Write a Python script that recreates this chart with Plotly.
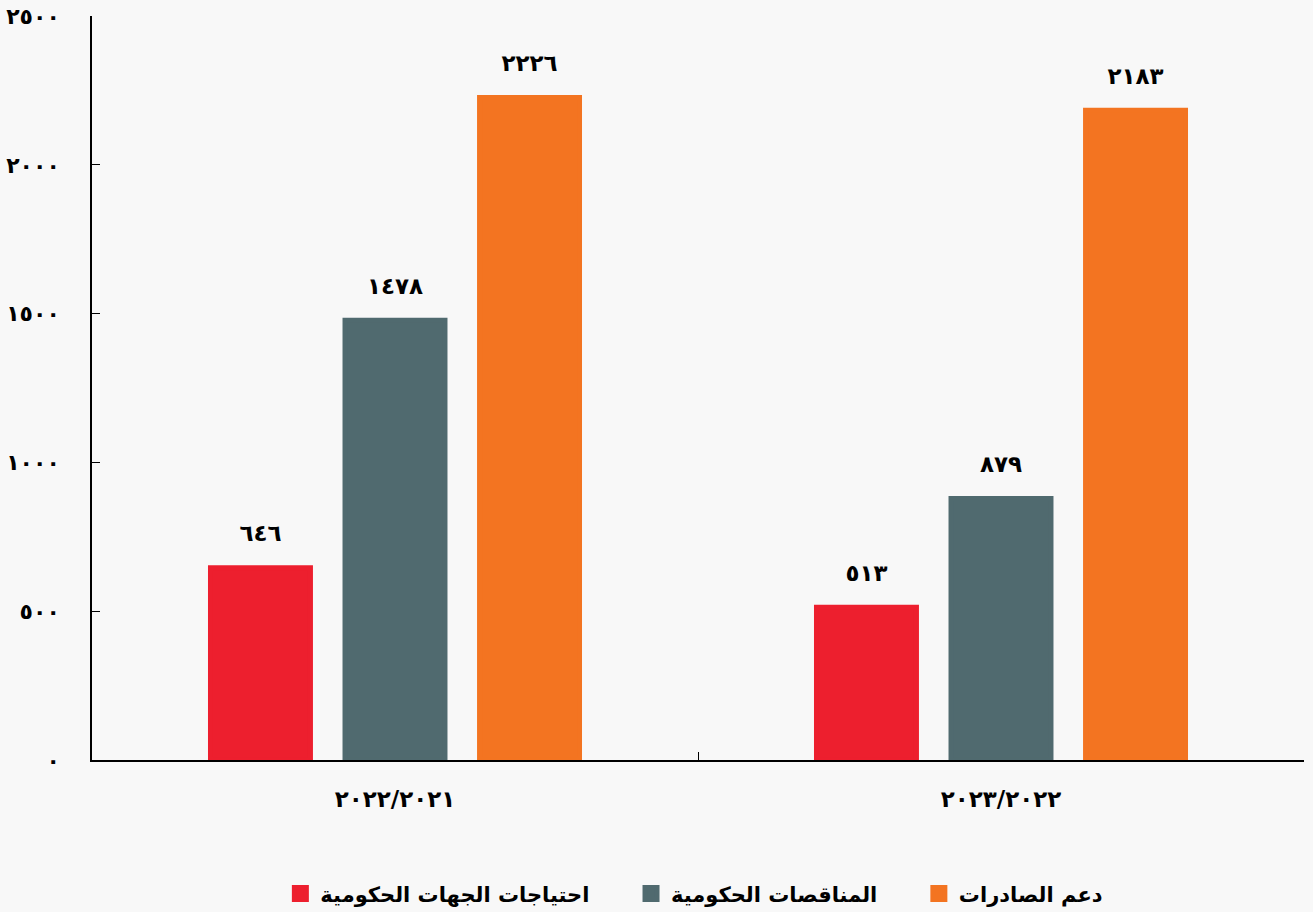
import plotly.graph_objs as go

# ===== data =====
years = ["٢٠٢٢/٢٠٢١", "٢٠٢٣/٢٠٢٢"]
series_names = ["احتياجات الجهات الحكومية", "المناقصات الحكومية", "دعم الصادرات"]
needs = [646, 513]
tenders = [1478, 879]
exports = [2226, 2183]
y_ticks = [0, 500, 1000, 1500, 2000, 2500]

COLORS = ["#ED1F2E", "#506A6F", "#F37421"]
BG = "#f8f8f8"
FONT = "DejaVu Sans"
AR_DIGITS = str.maketrans("0123456789", "٠١٢٣٤٥٦٧٨٩")
LEGEND_PAD = "\u00a0" * 5  # extra room between legend entries


def ar(n):
    # western digits -> arabic-indic digits
    return str(n).translate(AR_DIGITS)


def bar_label(n):
    # big number + a small blank line so the label sits a bit above the bar
    return "<span style='font-size:23px'>" + ar(n) + "</span><br> "


fig = go.Figure()
for i, (name, vals, color) in enumerate(zip(series_names, [needs, tenders, exports], COLORS)):
    fig.add_trace(go.Bar(
        name=name + (LEGEND_PAD if i < len(series_names) - 1 else ""),
        x=years, y=vals,
        text=[bar_label(v) for v in vals],
        textposition="outside",
        textfont=dict(size=15, color="black", family=FONT, weight="bold"),
        # outline in the same colour -> bigger legend squares
        marker=dict(color=color, line=dict(color=color, width=5)),
        cliponaxis=False,
    ))

fig.update_layout(
    barmode="group", bargap=0.334, bargroupgap=0.257,
    width=1313, height=912,
    margin=dict(l=92, r=9, t=16, b=152, autoexpand=False),
    paper_bgcolor=BG, plot_bgcolor=BG,
    font=dict(family=FONT, size=20, color="black"),
    legend=dict(orientation="h", x=0.497, xanchor="center", y=-0.18, yanchor="middle",
                font=dict(size=21, family=FONT, weight="bold"), itemwidth=30,
                traceorder="normal"),
)
fig.update_yaxes(
    range=[0, 2500], tickvals=y_ticks, ticktext=[ar(v) for v in y_ticks],
    showgrid=False, zeroline=False, showline=True, linecolor="black", linewidth=1.5,
    ticks="inside", ticklen=8, tickcolor="black", ticklabelstandoff=26,
    tickfont=dict(size=22, family=FONT, weight="bold"), automargin=False,
)
fig.update_xaxes(
    showgrid=False, showline=True, linecolor="black", linewidth=1.5,
    ticks="inside", tickson="boundaries", ticklen=8, tickcolor="black",
    ticklabelstandoff=18, automargin=False,
    tickfont=dict(size=23, family=FONT, weight="bold"),
)

fig.write_html("out.html", config={"displayModeBar": False},
               post_script="document.body.style.margin='0';document.body.style.background='%s';" % BG)
